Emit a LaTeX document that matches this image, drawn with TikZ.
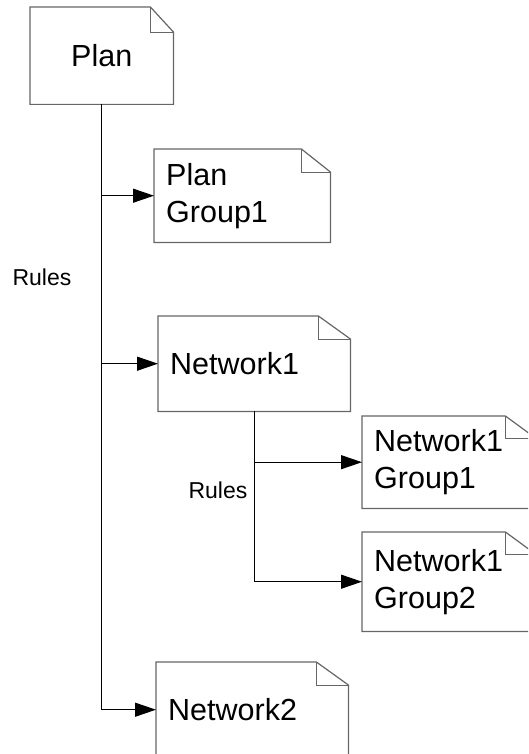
\documentclass[tikz,border=0pt]{standalone}
\usepackage{fontspec}
\setmainfont{Liberation Sans}
\usetikzlibrary{arrows.meta}

\begin{document}
\begin{tikzpicture}[x=1pt, y=-1pt,
	note/.style={rectangle, anchor=north west, inner xsep=12pt, inner ysep=0pt, align=left, font=\fontsize{30.5}{37}\selectfont},
	notefold/.style={line width=1.2pt, draw=black!60, line join=miter},
	link/.style={line width=1.2pt, draw=black, -{Triangle[length=21pt, width=14pt]}},
	rulelabel/.style={font=\fontsize{23}{28}\selectfont, inner sep=0pt}
	]

	\useasboundingbox (0,0) rectangle (528,754);
	\clip (0,0) rectangle (528,754);

	% the documents
	\node[note, align=center, minimum width=143pt, minimum height=97pt, text width=119pt] (plan) at (30,7) {Plan};
	\node[note, minimum width=176pt, minimum height=93pt, text width=152pt] (pg1) at (154,149) {Plan\\Group1};
	\node[note, minimum width=192pt, minimum height=95pt, text width=168pt] (net1) at (158,316) {Network1};
	\node[note, minimum width=173pt, minimum height=92pt, text width=149pt] (n1g1) at (362,416) {Network1\\Group1};
	\node[note, minimum width=173pt, minimum height=99pt, text width=149pt] (n1g2) at (362,532) {Network1\\Group2};
	\node[note, minimum width=192pt, minimum height=95pt, text width=168pt] (net2) at (156,662) {Network2};

	% outline with the dog-ear corner
	\foreach \n/\fw/\fh in {plan/23/25, pg1/29/23, net1/32/23, n1g1/30/22, n1g2/30/22, net2/32/23} {
		\draw[notefold] (\n.north west) -- ([xshift=-\fw*1pt]\n.north east) -- ([yshift=-\fh*1pt]\n.north east) |- (\n.south west) -- cycle;
		\draw[notefold, line width=0.8pt] ([xshift=-\fw*1pt]\n.north east) |- ([yshift=-\fh*1pt]\n.north east);
	}

	% rules from the plan
	\draw[link] (plan.south) |- (pg1.west);
	\draw[link] (plan.south) |- (net1.west);
	\draw[link] (plan.south) |- (net2.west);
	\node[rulelabel] (rules1) at (42,277) {Rules};

	% rules from network1
	\draw[link] (net1.south) |- (n1g1.west);
	\draw[link] (net1.south) |- (n1g2.west);
	\node[rulelabel] (rules2) at (218,490) {Rules};

\end{tikzpicture}
\end{document}
